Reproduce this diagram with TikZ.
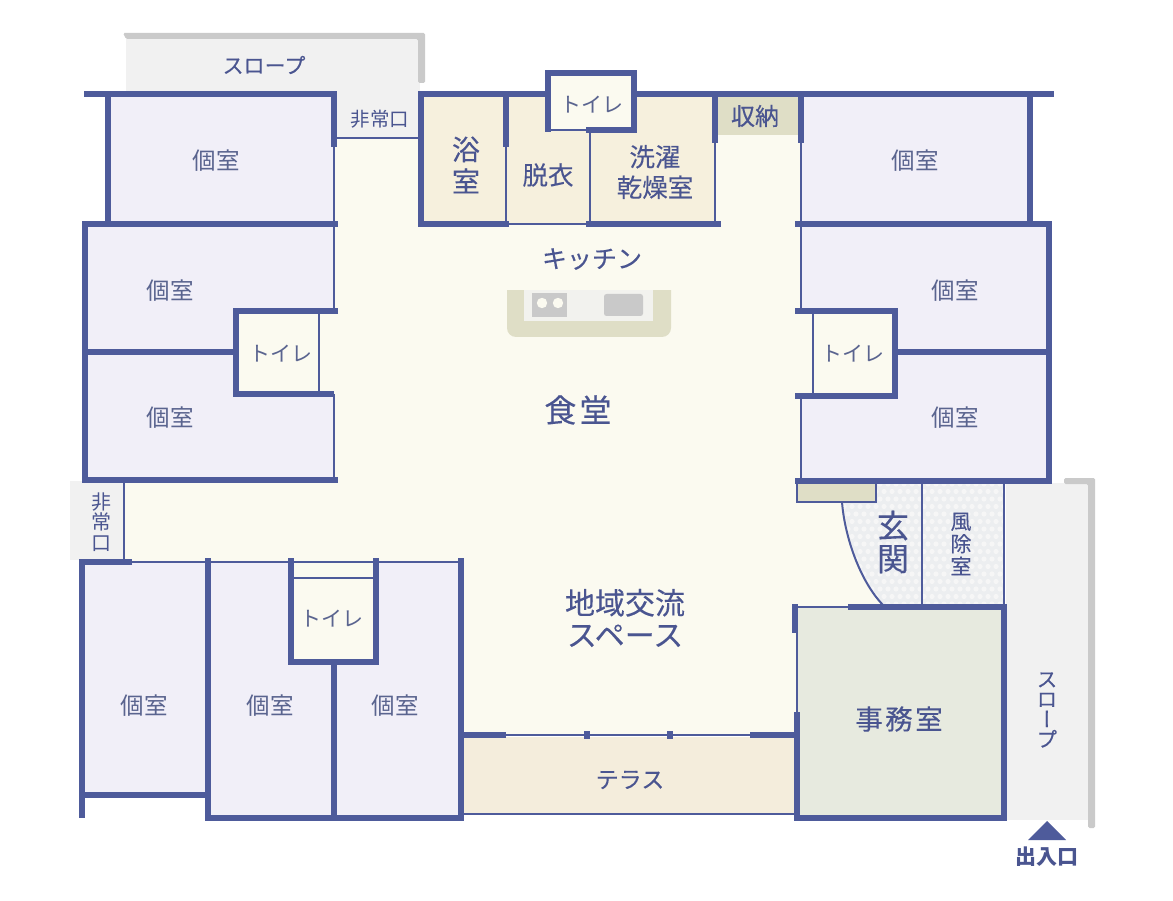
\documentclass[tikz,border=0pt]{standalone}
\usepackage{fontspec}
\setmainfont{Noto Sans CJK JP}
\newfontfamily\vfont[RawFeature={+vert}]{Noto Sans CJK JP}
\newcommand{\hv}{\addfontfeature{FakeBold=0.2}}
\definecolor{wallc}{HTML}{4E5B9B}
\definecolor{txtc}{HTML}{4A5590}
\definecolor{txtg}{HTML}{5A648F}
\definecolor{pubc}{HTML}{FBFAF0}
\definecolor{roomc}{HTML}{F1EFF8}
\definecolor{bathc}{HTML}{F6F0DD}
\definecolor{storc}{HTML}{DFDEC6}
\definecolor{slopec}{HTML}{F1F1F1}
\definecolor{railc}{HTML}{CACACA}
\definecolor{terrc}{HTML}{F4EDDC}
\definecolor{offc}{HTML}{E7EADF}
\definecolor{entc}{HTML}{ECEEF0}
\definecolor{dotc}{HTML}{F6F6F6}
\definecolor{innerc}{HTML}{F2F2EE}
\definecolor{grayc}{HTML}{C9C9C9}
\tikzset{
  wall/.style={draw=wallc,line width=6.2pt,line cap=butt,miter limit=10},
  hair/.style={draw=wallc,line width=2pt,line cap=butt},
  lbl/.style={text=txtc,inner sep=0pt,align=center},
  room/.style={text=txtg,inner sep=0pt,font=\fontsize{23.5}{26}\selectfont},
  wc/.style={text=txtg,inner sep=0pt,font=\fontsize{21}{24}\selectfont},
}
\begin{document}
\begin{tikzpicture}[x=1pt,y=-1pt]
\useasboundingbox (0,0) rectangle (1173,901);
\fill[white] (0,0) rectangle (1173,901);
% slopes
\fill[slopec] (126,36) rectangle (420,94);
\fill[slopec] (334,94) rectangle (421,138);
\fill[slopec] (1006,483) rectangle (1089,820);
\fill[slopec] (70,481) rectangle (124,560);
% public area
\fill[pubc] (334,138) -- (421,138) -- (421,94) -- (801,94) -- (801,481) -- (797,481) -- (797,735) -- (463,735) -- (463,562) -- (124,562) -- (124,481) -- (334,481) -- cycle;
\fill[pubc] (797,481) rectangle (890,607);
% rooms
\fill[roomc] (108,94) rectangle (334,224);
\fill[roomc] (85,224) rectangle (334,481);
\fill[roomc] (801,94) rectangle (1030,224);
\fill[roomc] (801,224) rectangle (1049,481);
\fill[roomc] (82,562) rectangle (208,795);
\fill[roomc] (208,562) rectangle (461,818);
% toilets
\fill[pubc] (236,311) rectangle (319,394);
\fill[pubc] (319,311) rectangle (337,394);
\fill[pubc] (801,311) rectangle (895,396);
\fill[pubc] (291,558) rectangle (376,662);
% bath
\fill[bathc] (421,94) rectangle (715,224);
\fill[pubc] (548,73) rectangle (634,130);
\fill[storc] (717,97) rectangle (798,135);
% terrace, office, entrance
\fill[terrc] (463,737) rectangle (795,814);
\fill[offc] (797,607) rectangle (1004,818);
\fill[entc] (842,483) .. controls (845,540) and (862,585) .. (885,607) -- (1004,607) -- (1004,483) -- cycle;
\begin{scope}
\clip (842,483) .. controls (845,540) and (862,585) .. (885,607) -- (1004,607) -- (1004,483) -- cycle;
\foreach \i in {0,...,16} \foreach \j in {0,...,22} {
  \fill[dotc] ({840+\j*8+mod(\i,2)*4},{484+\i*7.5}) circle (2.6);
}
\end{scope}
% rails
\fill[railc,rounded corners=1.5pt] (123,33) -- (425,33) -- (425,83) -- (418,83) -- (418,39) -- (126,39) -- cycle;
\fill[railc,rounded corners=1.5pt] (1064,478) -- (1095,478) -- (1095,828) -- (1088,828) -- (1088,484) -- (1064,484) -- cycle;
% kitchen
\fill[storc,rounded corners=9pt] (507,280) rectangle (671,337);
\fill[pubc] (500,270) rectangle (680,290);
\fill[innerc] (524,290) rectangle (653,321);
\fill[grayc] (532,293) rectangle (567,317);
\fill[pubc] (542,303) circle (5.2);
\fill[pubc] (558,303) circle (5.2);
\fill[grayc,rounded corners=2.5pt] (604,294) rectangle (643,316);
% cabinet
\filldraw[fill=storc,hair] (797,483) rectangle (876,502);
% thin walls
\draw[hair] (334,138) -- (421,138);
\draw[hair] (334,147) -- (334,311);
\draw[hair] (334,394) -- (334,481);
\draw[hair] (319,311) -- (319,394);
\draw[hair] (801,143) -- (801,311);
\draw[hair] (801,396) -- (801,481);
\draw[hair] (813,311) -- (813,396);
\draw[hair] (506,147) -- (506,224);
\draw[hair] (589.7,130) -- (589.7,224);
\draw[hair] (714.7,143) -- (714.7,224);
\draw[hair] (509,224) -- (586,224);
\draw[hair] (548,130) -- (586,130);
\draw[hair] (124,483) -- (124,562);
\draw[hair] (132,562) -- (461,562);
\draw[hair] (291,578) -- (376,578);
\draw[hair] (463,735) -- (795,735);
\draw[hair] (463,814) -- (795,814);
\draw[hair] (795,607) -- (850,607);
\draw[hair] (797,632) -- (797,712);
\draw[hair] (922,481) -- (922,607);
\draw[hair] (1004,481) -- (1004,607);
\draw[hair] (842,502) .. controls (845,540) and (862,585) .. (885,607);
% thick walls
\draw[wall] (84,94) -- (337,94);
\draw[wall] (108,94) -- (108,224);
\draw[wall] (334,94) -- (334,147);
\draw[wall] (82,224) -- (338,224);
\draw[wall] (85,224) -- (85,483);
\draw[wall] (82,480) -- (338,480);
\draw[wall] (85,352) -- (236,352);
\draw[wall] (338,311) -- (236,311) -- (236,394) -- (334,394);
\draw[wall] (418,224) -- (509,224);
\draw[wall] (421,224) -- (421,94) -- (548,94);
\draw[wall] (634,94) -- (1054,94);
\draw[wall] (506,94) -- (506,147);
\draw[wall] (548,132) -- (548,73) -- (634,73) -- (634,130);
\draw[wall] (586,130) -- (637,130);
\draw[wall] (586,224) -- (721,224);
\draw[wall] (714.7,94) -- (714.7,143);
\draw[wall] (801,94) -- (801,143);
\draw[wall] (1030,94) -- (1030,224);
\draw[wall] (795,224) -- (1052,224);
\draw[wall] (1049,224) -- (1049,484);
\draw[wall] (795,481) -- (1052,481);
\draw[wall] (795,311) -- (895,311) -- (895,396) -- (795,396);
\draw[wall] (895,352) -- (1049,352);
\draw[wall] (132,562) -- (82,562) -- (82,818);
\draw[wall] (82,795) -- (208,795);
\draw[wall] (208,558) -- (208,818);
\draw[wall] (205,818) -- (464,818);
\draw[wall] (291,558) -- (291,662);
\draw[wall] (376,558) -- (376,662);
\draw[wall] (288,662) -- (379,662);
\draw[wall] (334,662) -- (334,818);
\draw[wall] (461,558) -- (461,818);
\draw[wall] (463,735) -- (506,735);
\draw[wall] (750,735) -- (795,735);
\draw[wall] (587,731) -- (587,739);
\draw[wall] (670,731) -- (670,739);
\draw[wall] (795,604) -- (795,633);
\draw[wall] (797,712) -- (797,821);
\draw[wall] (848,607) -- (1007,607);
\draw[wall] (1004,607) -- (1004,821);
\draw[wall] (794,818) -- (1007,818);
% entrance arrow
\fill[wallc] (1047,821) -- (1066,840) -- (1028,840) -- cycle;
% labels
\node[room] (r1) at (216,161) {個室};
\node[room] (r2) at (170,291) {個室};
\node[room] (r3) at (170,418) {個室};
\node[room] (r4) at (915,161) {個室};
\node[room] (r5) at (955,291) {個室};
\node[room] (r6) at (955,418) {個室};
\node[room] (r7) at (144,706) {個室};
\node[room] (r8) at (270,706) {個室};
\node[room] (r9) at (395,706) {個室};
\node[wc] (t1) at (592,105) {トイレ};
\node[wc] (t2) at (281,354) {トイレ};
\node[wc] (t3) at (853,354) {トイレ};
\node[wc] (t4) at (332,619) {トイレ};
\node[lbl,font=\fontsize{21}{24}\selectfont\hv] (s1) at (264,65) {スロープ};
\node[lbl,font=\fontsize{19.5}{24}\selectfont] (e1) at (380,119) {非常口};
\node[lbl,font=\fontsize{28}{32}\selectfont\hv] (b1) at (466,165) {浴\\室};
\node[lbl,font=\fontsize{25.5}{30}\selectfont\hv] (b2) at (548,175) {脱衣};
\node[lbl,font=\fontsize{25.5}{30.5}\selectfont\hv] (b3) at (655,172) {洗濯\\乾燥室};
\node[lbl,font=\fontsize{24}{28}\selectfont\hv] (st) at (755,116) {収納};
\node[lbl,font=\fontsize{25}{28}\selectfont\hv] (k) at (592,259) {キッチン};
\node[lbl,font=\fontsize{32}{36}\selectfont\addfontfeature{LetterSpace=10,FakeBold=0.2}] (d) at (578,410) {食堂};
\node[lbl,font=\fontsize{30}{32}\selectfont\hv] (c) at (625,618) {地域交流\\スペース};
\node[lbl,font=\fontsize{27.5}{32}\selectfont\addfontfeature{LetterSpace=9,FakeBold=0.2}] (o) at (899,719) {事務室};
\node[lbl,font=\fontsize{23}{26}\selectfont\hv] (te) at (630,780) {テラス};
\node[lbl,font=\fontsize{32}{33}\selectfont\hv] (g) at (893,542) {玄\\関};
\node[lbl,font=\fontsize{21}{22.5}\selectfont\hv] (w) at (961,544) {風\\除\\室};
\node[lbl,font=\fontsize{20}{20.5}\selectfont] (e2) at (101,522) {非\\常\\口};
\node[lbl,font=\vfont\fontsize{21}{20}\selectfont\hv] (s2) at (1047,710) {ス\\ロ\\ー\\プ};
\node[lbl,font=\bfseries\fontsize{21}{24}\selectfont] (in) at (1047,857) {出入口};
\end{tikzpicture}
\end{document}
